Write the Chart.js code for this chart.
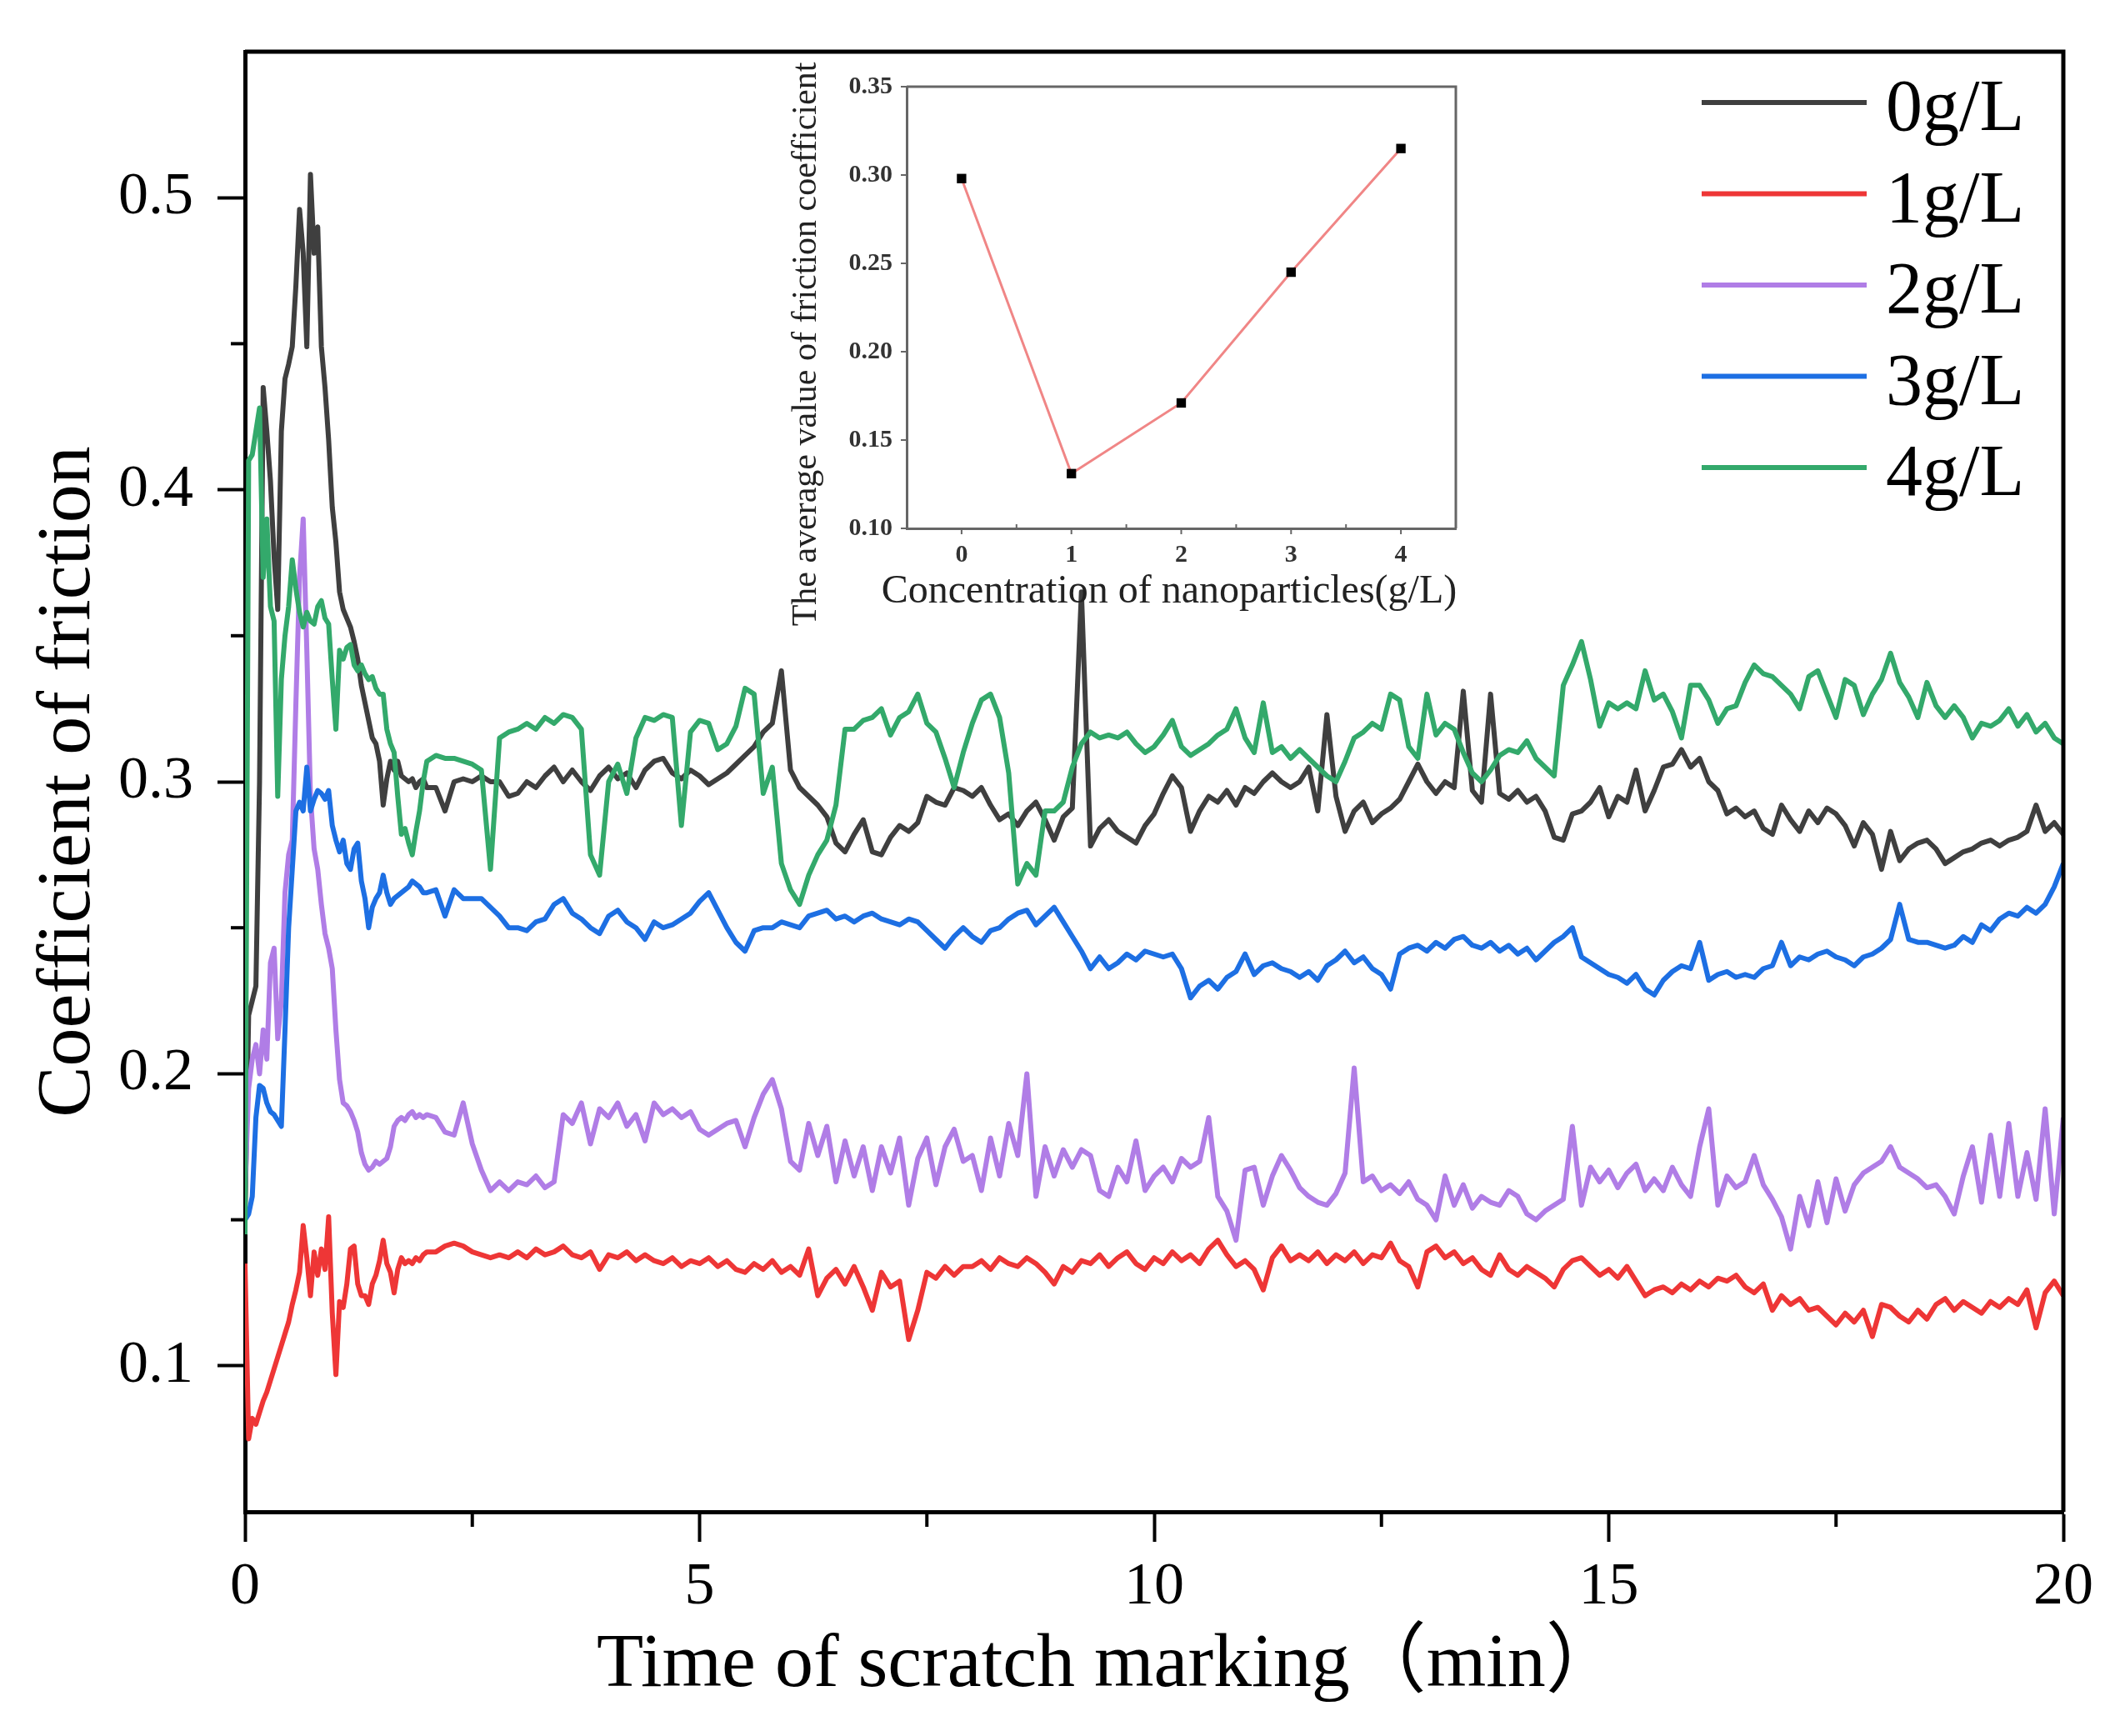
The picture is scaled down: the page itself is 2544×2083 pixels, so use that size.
<!DOCTYPE html>
<html>
<head>
<meta charset="utf-8">
<title>Coefficient of friction</title>
<script src="https://cdn.jsdelivr.net/npm/chart.js@4.4.1/dist/chart.umd.min.js"></script>
<style>
    html, body { margin: 0; padding: 0; background: #fff; }
    #wrap { position: relative; width: 2544px; height: 2083px; }
    #mainChart { position: absolute; left: 0; top: 0; }
    #insetChart { position: absolute; left: 940px; top: 60px; }
</style>
</head>
<body>
<div id="wrap">
    <canvas id="mainChart" width="2544" height="2083"></canvas>
    <canvas id="insetChart" width="840" height="720"></canvas>
</div>
<script>
// 采样时间 (min)：前 2 min 每 0.04 min 一点，之后每 0.1 min 一点
const timeMin = [];
for (let i = 0; i <= 50; i++) timeMin.push(Math.round(i * 4) / 100);
for (let i = 21; i <= 200; i++) timeMin.push(i / 10);

// 各浓度摩擦系数
const friction0 = [
    0.15, 0.22, 0.225, 0.23, 0.30, 0.435, 0.42, 0.403, 0.377, 0.359,
    0.42, 0.438, 0.443, 0.449, 0.47, 0.496, 0.481, 0.449, 0.508, 0.481,
    0.49, 0.449, 0.435, 0.417, 0.394, 0.382, 0.365, 0.359, 0.356, 0.353,
    0.348, 0.342, 0.333, 0.327, 0.321, 0.315, 0.313, 0.307, 0.292, 0.301,
    0.307, 0.304, 0.307, 0.302, 0.301, 0.3, 0.301, 0.298, 0.3, 0.301, 0.298,
    0.298, 0.29, 0.3, 0.301, 0.3, 0.302, 0.3, 0.3, 0.295,
    0.296, 0.3, 0.298, 0.302, 0.305, 0.3, 0.304, 0.3, 0.297, 0.302,
    0.305, 0.301, 0.303, 0.298, 0.304, 0.307, 0.308, 0.303, 0.301, 0.304,
    0.302, 0.299, 0.301, 0.303, 0.306, 0.309, 0.312, 0.317, 0.32, 0.338,
    0.304, 0.298, 0.295, 0.292, 0.288, 0.279, 0.276, 0.282, 0.287, 0.276,
    0.275, 0.281, 0.285, 0.283, 0.286, 0.295, 0.293, 0.292, 0.298, 0.297,
    0.295, 0.298, 0.292, 0.287, 0.289, 0.285, 0.29, 0.293, 0.287, 0.28,
    0.288, 0.291, 0.365, 0.278, 0.284, 0.287, 0.283, 0.281, 0.279, 0.285,
    0.289, 0.296, 0.302, 0.298, 0.283, 0.29, 0.295, 0.293, 0.297, 0.292,
    0.298, 0.296, 0.3, 0.303, 0.3, 0.298, 0.3, 0.305, 0.29, 0.323,
    0.295, 0.283, 0.29, 0.293, 0.286, 0.289, 0.291, 0.294, 0.3, 0.306,
    0.3, 0.296, 0.3, 0.298, 0.331, 0.297, 0.293, 0.33, 0.296, 0.294,
    0.297, 0.293, 0.295, 0.29, 0.281, 0.28, 0.289, 0.29, 0.293, 0.298,
    0.288, 0.295, 0.293, 0.304, 0.29, 0.297, 0.305, 0.306, 0.311, 0.305,
    0.308, 0.3, 0.297, 0.289, 0.291, 0.288, 0.29, 0.284, 0.282, 0.292,
    0.287, 0.283, 0.29, 0.286, 0.291, 0.289, 0.285, 0.278, 0.286, 0.282,
    0.27, 0.283, 0.273, 0.277, 0.279, 0.28, 0.277, 0.272, 0.274, 0.276,
    0.277, 0.279, 0.28, 0.278, 0.28, 0.281, 0.283, 0.292, 0.283, 0.286, 0.282
];
const friction1 = [
    0.135, 0.075, 0.082, 0.08, 0.084, 0.088, 0.091, 0.095, 0.099, 0.103,
    0.107, 0.111, 0.115, 0.121, 0.126, 0.132, 0.148, 0.137, 0.124, 0.139,
    0.131, 0.14, 0.133, 0.151, 0.118, 0.097, 0.122, 0.12, 0.128, 0.14,
    0.141, 0.128, 0.124, 0.124, 0.121, 0.128, 0.131, 0.136, 0.143, 0.135,
    0.132, 0.125, 0.133, 0.137, 0.135, 0.136, 0.135, 0.137, 0.136, 0.138, 0.139,
    0.139, 0.141, 0.142, 0.141, 0.139, 0.138, 0.137, 0.138, 0.137,
    0.139, 0.137, 0.14, 0.138, 0.139, 0.141, 0.138, 0.137, 0.139, 0.133,
    0.138, 0.137, 0.139, 0.136, 0.138, 0.136, 0.135, 0.137, 0.134, 0.136,
    0.135, 0.137, 0.134, 0.136, 0.133, 0.132, 0.135, 0.133, 0.136, 0.132,
    0.134, 0.131, 0.14, 0.124, 0.13, 0.133, 0.128, 0.134, 0.127, 0.119,
    0.132, 0.127, 0.129, 0.109, 0.119, 0.132, 0.13, 0.134, 0.131, 0.134,
    0.134, 0.136, 0.133, 0.137, 0.135, 0.134, 0.137, 0.135, 0.132, 0.128,
    0.134, 0.132, 0.136, 0.135, 0.138, 0.134, 0.137, 0.139, 0.135, 0.133,
    0.137, 0.135, 0.139, 0.136, 0.138, 0.135, 0.14, 0.143, 0.138, 0.134,
    0.136, 0.133, 0.126, 0.137, 0.141, 0.136, 0.138, 0.136, 0.139, 0.135,
    0.138, 0.136, 0.139, 0.135, 0.138, 0.137, 0.142, 0.136, 0.134, 0.127,
    0.139, 0.141, 0.137, 0.139, 0.135, 0.137, 0.133, 0.131, 0.138, 0.133,
    0.131, 0.134, 0.132, 0.13, 0.127, 0.133, 0.136, 0.137, 0.134, 0.131,
    0.133, 0.13, 0.134, 0.129, 0.124, 0.126, 0.127, 0.125, 0.128, 0.126,
    0.129, 0.127, 0.13, 0.129, 0.131, 0.127, 0.125, 0.128, 0.119, 0.124,
    0.121, 0.123, 0.119, 0.12, 0.117, 0.114, 0.118, 0.115, 0.119, 0.11,
    0.121, 0.12, 0.117, 0.115, 0.119, 0.116, 0.121, 0.123, 0.119, 0.122,
    0.12, 0.118, 0.122, 0.12, 0.123, 0.121, 0.126, 0.113, 0.125, 0.129, 0.124
];
const friction2 = [
    0.16, 0.195, 0.205, 0.21, 0.2, 0.215, 0.205, 0.238, 0.243, 0.212,
    0.225, 0.262, 0.275, 0.28, 0.327, 0.37, 0.39, 0.345, 0.295, 0.277,
    0.27, 0.258, 0.248, 0.243, 0.236, 0.215, 0.198, 0.19, 0.189, 0.187,
    0.184, 0.18, 0.173, 0.169, 0.167, 0.168, 0.17, 0.169, 0.17, 0.171,
    0.175, 0.182, 0.184, 0.185, 0.184, 0.186, 0.187, 0.185, 0.186, 0.185, 0.186,
    0.185, 0.18, 0.179, 0.19, 0.176, 0.167, 0.16, 0.163, 0.16,
    0.163, 0.162, 0.165, 0.161, 0.163, 0.186, 0.183, 0.19, 0.176, 0.188,
    0.185, 0.19, 0.182, 0.186, 0.177, 0.19, 0.186, 0.188, 0.185, 0.187,
    0.181, 0.179, 0.181, 0.183, 0.184, 0.175, 0.185, 0.193, 0.198, 0.188,
    0.17, 0.167, 0.183, 0.172, 0.182, 0.163, 0.177, 0.165, 0.175, 0.16,
    0.175, 0.166, 0.178, 0.155, 0.171, 0.178, 0.162, 0.175, 0.181, 0.17,
    0.172, 0.16, 0.178, 0.165, 0.183, 0.172, 0.2, 0.158, 0.175, 0.165,
    0.174, 0.168, 0.174, 0.172, 0.16, 0.158, 0.168, 0.163, 0.177, 0.16,
    0.165, 0.168, 0.163, 0.171, 0.168, 0.17, 0.185, 0.158, 0.153, 0.143,
    0.167, 0.168, 0.155, 0.165, 0.172, 0.167, 0.161, 0.158, 0.156, 0.155,
    0.159, 0.166, 0.202, 0.163, 0.165, 0.16, 0.162, 0.159, 0.163, 0.157,
    0.155, 0.15, 0.165, 0.155, 0.162, 0.154, 0.158, 0.156, 0.155, 0.16,
    0.158, 0.152, 0.15, 0.153, 0.155, 0.157, 0.182, 0.155, 0.168, 0.163,
    0.167, 0.161, 0.166, 0.169, 0.16, 0.164, 0.16, 0.168, 0.162, 0.158,
    0.175, 0.188, 0.155, 0.165, 0.161, 0.163, 0.172, 0.162, 0.157, 0.151,
    0.14, 0.158, 0.148, 0.163, 0.149, 0.164, 0.153, 0.162, 0.166, 0.168,
    0.17, 0.175, 0.168, 0.166, 0.164, 0.161, 0.162, 0.158, 0.152, 0.165,
    0.175, 0.156, 0.179, 0.158, 0.183, 0.158, 0.173, 0.157, 0.188, 0.152, 0.185
];
const friction3 = [
    0.15, 0.152, 0.158, 0.185, 0.196, 0.195, 0.19, 0.187, 0.186, 0.184,
    0.182, 0.215, 0.25, 0.27, 0.29, 0.293, 0.29, 0.305, 0.29, 0.294,
    0.297, 0.296, 0.294, 0.297, 0.285, 0.28, 0.276, 0.28, 0.272, 0.27,
    0.277, 0.279, 0.266, 0.26, 0.25, 0.257, 0.26, 0.262, 0.268, 0.262,
    0.258, 0.26, 0.261, 0.262, 0.263, 0.264, 0.266, 0.265, 0.264, 0.262, 0.262,
    0.263, 0.254, 0.263, 0.26, 0.26, 0.26, 0.257, 0.254, 0.25,
    0.25, 0.249, 0.252, 0.253, 0.258, 0.26, 0.255, 0.253, 0.25, 0.248,
    0.254, 0.256, 0.252, 0.25, 0.246, 0.252, 0.25, 0.251, 0.253, 0.255,
    0.259, 0.262, 0.256, 0.25, 0.245, 0.242, 0.249, 0.25, 0.25, 0.252,
    0.251, 0.25, 0.254, 0.255, 0.256, 0.253, 0.254, 0.252, 0.254, 0.255,
    0.253, 0.252, 0.251, 0.253, 0.252, 0.249, 0.246, 0.243, 0.247, 0.25,
    0.247, 0.245, 0.249, 0.25, 0.253, 0.255, 0.256, 0.251, 0.254, 0.257,
    0.252, 0.247, 0.242, 0.236, 0.24, 0.236, 0.238, 0.241, 0.239, 0.242,
    0.241, 0.24, 0.241, 0.236, 0.226, 0.23, 0.232, 0.229, 0.233, 0.235,
    0.241, 0.234, 0.237, 0.238, 0.236, 0.235, 0.233, 0.235, 0.232, 0.237,
    0.239, 0.242, 0.238, 0.24, 0.236, 0.234, 0.229, 0.241, 0.243, 0.244,
    0.242, 0.245, 0.243, 0.246, 0.247, 0.244, 0.243, 0.245, 0.242, 0.244,
    0.241, 0.243, 0.239, 0.242, 0.245, 0.247, 0.25, 0.24, 0.238, 0.236,
    0.234, 0.233, 0.231, 0.234, 0.229, 0.227, 0.232, 0.235, 0.237, 0.236,
    0.245, 0.232, 0.234, 0.235, 0.233, 0.234, 0.233, 0.236, 0.237, 0.245,
    0.237, 0.24, 0.239, 0.241, 0.242, 0.24, 0.239, 0.237, 0.24, 0.241,
    0.243, 0.246, 0.258, 0.246, 0.245, 0.245, 0.244, 0.243, 0.244, 0.247,
    0.245, 0.251, 0.249, 0.253, 0.255, 0.254, 0.257, 0.255, 0.258, 0.264, 0.272
];
const friction4 = [
    0.145, 0.41, 0.412, 0.42, 0.428, 0.37, 0.39, 0.36, 0.355, 0.295,
    0.335, 0.35, 0.36, 0.376, 0.366, 0.358, 0.353, 0.358, 0.355, 0.354,
    0.36, 0.362, 0.356, 0.354, 0.335, 0.318, 0.345, 0.342, 0.346, 0.347,
    0.34, 0.338, 0.34, 0.337, 0.335, 0.336, 0.332, 0.33, 0.33, 0.318,
    0.313, 0.31, 0.295, 0.282, 0.284, 0.279, 0.275, 0.283, 0.29, 0.3, 0.307,
    0.309, 0.308, 0.308, 0.307, 0.306, 0.304, 0.27, 0.315, 0.317,
    0.318, 0.32, 0.318, 0.322, 0.32, 0.323, 0.322, 0.318, 0.275, 0.268,
    0.3, 0.306, 0.296, 0.315, 0.322, 0.321, 0.323, 0.322, 0.285, 0.317,
    0.321, 0.32, 0.311, 0.313, 0.319, 0.332, 0.33, 0.296, 0.305, 0.272,
    0.263, 0.258, 0.268, 0.275, 0.28, 0.292, 0.318, 0.318, 0.321, 0.322,
    0.325, 0.316, 0.322, 0.324, 0.33, 0.32, 0.317, 0.308, 0.298, 0.31,
    0.32, 0.328, 0.33, 0.322, 0.303, 0.265, 0.272, 0.268, 0.29, 0.29,
    0.293, 0.305, 0.313, 0.317, 0.315, 0.316, 0.315, 0.317, 0.313, 0.31,
    0.312, 0.316, 0.321, 0.312, 0.309, 0.311, 0.313, 0.316, 0.318, 0.325,
    0.315, 0.31, 0.327, 0.31, 0.312, 0.308, 0.311, 0.308, 0.305, 0.302,
    0.3, 0.307, 0.315, 0.317, 0.32, 0.318, 0.33, 0.328, 0.312, 0.308,
    0.33, 0.316, 0.32, 0.318, 0.31, 0.303, 0.3, 0.304, 0.309, 0.311,
    0.31, 0.314, 0.308, 0.305, 0.302, 0.333, 0.34, 0.348, 0.335, 0.319,
    0.327, 0.325, 0.327, 0.325, 0.338, 0.328, 0.33, 0.324, 0.315, 0.333,
    0.333, 0.328, 0.32, 0.325, 0.326, 0.334, 0.34, 0.337, 0.336, 0.333,
    0.33, 0.325, 0.336, 0.338, 0.33, 0.322, 0.335, 0.333, 0.323, 0.33,
    0.335, 0.344, 0.334, 0.329, 0.322, 0.334, 0.326, 0.322, 0.326, 0.322,
    0.315, 0.32, 0.319, 0.321, 0.325, 0.319, 0.323, 0.317, 0.32, 0.315, 0.313
];

const seriesLabels = ['0g/L', '1g/L', '2g/L', '3g/L', '4g/L'];
const seriesValues = [friction0, friction1, friction2, friction3, friction4];
const seriesColors = ['#3f3f3f', '#ee3636', '#b07de6', '#1d6fe3', '#33a96b'];

// 主图刻度
const xTickValues = [0, 5, 10, 15, 20];
const xMinorTicks = [2.5, 7.5, 12.5, 17.5];
const yTickValues = [0.1, 0.2, 0.3, 0.4, 0.5];
const yMinorTicks = [0.15, 0.25, 0.35, 0.45];

// 插图数据：平均摩擦系数
const concentration = [0, 1, 2, 3, 4];
const avgFriction = [0.298, 0.131, 0.171, 0.245, 0.315];
const insetXTicks = [0, 1, 2, 3, 4];
const insetXMinor = [0.5, 1.5, 2.5, 3.5];
const insetYTicks = [0.10, 0.15, 0.20, 0.25, 0.30, 0.35];

const serif = "'Liberation Serif', 'Times New Roman', 'Noto Sans CJK SC', serif";

document.addEventListener('DOMContentLoaded', function() {
    initMainChart();
    initInsetChart();
});

// 边框 + 次刻度
const framePlugin = {
    id: 'frame',
    afterDraw(chart) {
        const { ctx, chartArea: a, scales } = chart;
        ctx.save();
        ctx.strokeStyle = '#000';
        ctx.lineWidth = 5;
        ctx.beginPath();
        ctx.moveTo(a.left, a.top);
        ctx.lineTo(a.right, a.top);
        ctx.lineTo(a.right, a.bottom);
        ctx.stroke();
        ctx.lineWidth = 4;
        xMinorTicks.forEach(v => {
            const px = scales.x.getPixelForValue(v);
            ctx.beginPath();
            ctx.moveTo(px, a.bottom);
            ctx.lineTo(px, a.bottom + 18);
            ctx.stroke();
        });
        yMinorTicks.forEach(v => {
            const py = scales.y.getPixelForValue(v);
            ctx.beginPath();
            ctx.moveTo(a.left, py);
            ctx.lineTo(a.left - 17, py);
            ctx.stroke();
        });
        ctx.restore();
    }
};

// 图例
const legendPlugin = {
    id: 'legendBox',
    afterDraw(chart) {
        const ctx = chart.ctx;
        ctx.save();
        ctx.font = '88px ' + serif;
        ctx.textBaseline = 'alphabetic';
        ctx.textAlign = 'left';
        chart.data.datasets.forEach((ds, i) => {
            const y = 123 + i * 109.5;
            ctx.strokeStyle = ds.borderColor;
            ctx.lineWidth = 6;
            ctx.beginPath();
            ctx.moveTo(2042, y);
            ctx.lineTo(2240, y);
            ctx.stroke();
            ctx.fillStyle = '#000';
            ctx.fillText(ds.label, 2263, y + 33);
        });
        ctx.restore();
    }
};

// 坐标轴标题
const axisTitlePlugin = {
    id: 'axisTitles',
    afterDraw(chart) {
        const { ctx, chartArea: a } = chart;
        ctx.save();
        ctx.fillStyle = '#000';
        ctx.textBaseline = 'alphabetic';
        ctx.textAlign = 'left';
        ctx.font = '92px ' + serif;
        ctx.fillText('Time of scratch marking\uFF08min\uFF09', 716, 2023);
        ctx.textAlign = 'center';
        ctx.translate(107, (a.top + a.bottom) / 2);
        ctx.rotate(-Math.PI / 2);
        ctx.font = '92px ' + serif;
        ctx.fillText('Coefficient of friction', 0, 0);
        ctx.restore();
    }
};

// 主图
function initMainChart() {
    const datasets = seriesValues.map((vals, i) => ({
        label: seriesLabels[i],
        data: vals.map((v, k) => ({ x: timeMin[k], y: v })),
        borderColor: seriesColors[i],
        borderWidth: 6,
        borderJoinStyle: 'round',
        pointRadius: 0,
        tension: 0,
        order: seriesValues.length - 1 - i
    }));

    new Chart(document.getElementById('mainChart'), {
        type: 'line',
        data: { datasets },
        options: {
            responsive: false,
            animation: false,
            devicePixelRatio: 1,
            layout: { padding: { top: 62, right: 68, left: 0, bottom: 0 } },
            plugins: { legend: { display: false }, tooltip: { enabled: false } },
            scales: {
                x: {
                    type: 'linear',
                    min: 0,
                    max: 20,
                    afterBuildTicks: s => { s.ticks = xTickValues.map(v => ({ value: v })); },
                    afterFit: s => { s.height = 269; },
                    grid: { drawOnChartArea: false, drawTicks: true, tickLength: 36, tickWidth: 4, tickColor: '#000' },
                    border: { display: true, color: '#000', width: 5 },
                    ticks: {
                        font: { family: serif, size: 72 },
                        color: '#000',
                        padding: 12,
                        maxRotation: 0,
                        autoSkip: false,
                        callback: v => String(v)
                    }
                },
                y: {
                    type: 'linear',
                    min: 0.05,
                    max: 0.55,
                    afterBuildTicks: s => { s.ticks = yTickValues.map(v => ({ value: v })); },
                    afterFit: s => {
                        s.width = 294;
                        s.paddingTop = 0;
                        s.paddingBottom = 0;
                    },
                    grid: { drawOnChartArea: false, drawTicks: true, tickLength: 33, tickWidth: 4, tickColor: '#000' },
                    border: { display: true, color: '#000', width: 5 },
                    ticks: {
                        font: { family: serif, size: 72 },
                        color: '#000',
                        padding: 29,
                        callback: v => v.toFixed(1)
                    }
                }
            }
        },
        plugins: [framePlugin, legendPlugin, axisTitlePlugin]
    });
}

// 插图边框、刻度和标题
const insetDecorPlugin = {
    id: 'insetDecor',
    afterDraw(chart) {
        const { ctx, chartArea: a, scales } = chart;
        ctx.save();
        ctx.strokeStyle = '#666';
        ctx.lineWidth = 3;
        ctx.beginPath();
        ctx.moveTo(a.left, a.top);
        ctx.lineTo(a.right, a.top);
        ctx.lineTo(a.right, a.bottom);
        ctx.stroke();
        ctx.lineWidth = 2;
        insetXTicks.forEach(v => {
            const px = scales.x.getPixelForValue(v);
            ctx.beginPath();
            ctx.moveTo(px, a.bottom);
            ctx.lineTo(px, a.bottom + 7);
            ctx.stroke();
        });
        insetXMinor.forEach(v => {
            const px = scales.x.getPixelForValue(v);
            ctx.beginPath();
            ctx.moveTo(px, a.bottom);
            ctx.lineTo(px, a.bottom - 5);
            ctx.stroke();
        });
        insetYTicks.forEach(v => {
            const py = scales.y.getPixelForValue(v);
            ctx.beginPath();
            ctx.moveTo(a.left, py);
            ctx.lineTo(a.left - 7, py);
            ctx.stroke();
        });

        ctx.fillStyle = '#222';
        ctx.textAlign = 'center';
        ctx.textBaseline = 'alphabetic';
        ctx.font = '48px ' + serif;
        ctx.fillText('Concentration of nanoparticles(g/L)', 463, 663);
        ctx.translate(39, 353);
        ctx.rotate(-Math.PI / 2);
        ctx.font = '42px ' + serif;
        ctx.fillText('The average value of friction coefficient', 0, 0);
        ctx.restore();
    }
};

// 插图
function initInsetChart() {
    new Chart(document.getElementById('insetChart'), {
        type: 'line',
        data: {
            datasets: [{
                data: concentration.map((c, i) => ({ x: c, y: avgFriction[i] })),
                borderColor: '#f08686',
                borderWidth: 3,
                tension: 0,
                pointStyle: 'rect',
                pointRadius: 8,
                pointBackgroundColor: '#000',
                pointBorderColor: '#000',
                pointBorderWidth: 0
            }]
        },
        options: {
            responsive: false,
            animation: false,
            devicePixelRatio: 1,
            layout: { padding: { top: 44, right: 33, left: 0, bottom: 0 } },
            plugins: { legend: { display: false }, tooltip: { enabled: false } },
            scales: {
                x: {
                    type: 'linear',
                    min: -0.5,
                    max: 4.5,
                    afterBuildTicks: s => { s.ticks = insetXTicks.map(v => ({ value: v })); },
                    afterFit: s => { s.height = 146; },
                    grid: { drawOnChartArea: false, drawTicks: false },
                    border: { display: true, color: '#666', width: 3 },
                    ticks: {
                        font: { family: serif, size: 30, weight: 'bold' },
                        color: '#333',
                        padding: 14,
                        maxRotation: 0,
                        callback: v => String(v)
                    }
                },
                y: {
                    type: 'linear',
                    min: 0.1,
                    max: 0.35,
                    afterBuildTicks: s => { s.ticks = insetYTicks.map(v => ({ value: v })); },
                    afterFit: s => {
                        s.width = 148;
                        s.paddingTop = 0;
                        s.paddingBottom = 0;
                    },
                    grid: { drawOnChartArea: false, drawTicks: false },
                    border: { display: true, color: '#666', width: 3 },
                    ticks: {
                        font: { family: serif, size: 30, weight: 'bold' },
                        color: '#333',
                        padding: 17,
                        callback: v => v.toFixed(2)
                    }
                }
            }
        },
        plugins: [insetDecorPlugin]
    });
}
</script>
</body>
</html>
